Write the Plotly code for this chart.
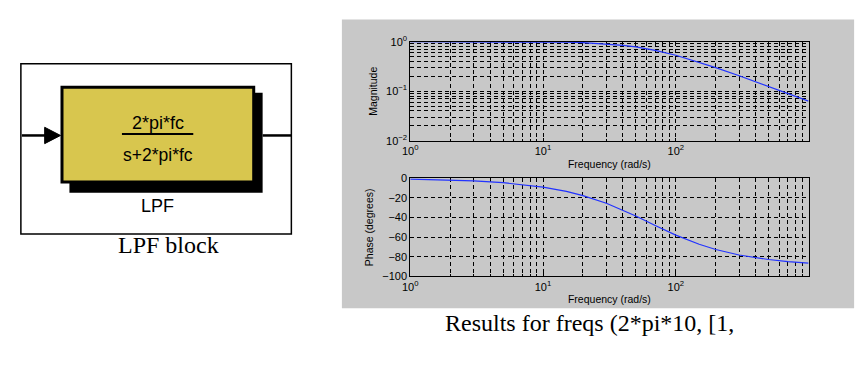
import plotly.graph_objects as go

W, H = 867, 368

# Data
freq = [1, 2, 3, 5, 7, 10, 15, 20, 30, 40, 50, 70, 100, 150, 200, 300, 400, 500, 700, 1000]
magnitude = [1.0, 0.9995, 0.9989, 0.997, 0.994, 0.988, 0.973, 0.953, 0.902, 0.843, 0.782, 0.668,
             0.532, 0.386, 0.300, 0.205, 0.155, 0.125, 0.089, 0.063]
phase = [-0.9, -1.8, -2.7, -4.5, -6.4, -9.0, -13.4, -17.7, -25.5, -32.5, -38.5, -48.1,
         -57.9, -67.3, -72.6, -78.2, -81.1, -82.8, -84.9, -86.4]

x_major = [1, 10, 100]
x_major_labels = ["10<sup>0</sup>", "10<sup>1</sup>", "10<sup>2</sup>"]
mag_major = [0.01, 0.1, 1]
mag_major_labels = ["10<sup>−2</sup>", "10<sup>−1</sup>", "10<sup>0</sup>"]
phase_ticks = [0, -20, -40, -60, -80, -100]
minor_mult = [2, 3, 4, 5, 6, 7, 8, 9]

xlabel = "Frequency (rad/s)"
mag_label = "Magnitude"
phase_label = "Phase (degrees)"
block_num = "2*pi*fc"
block_den = "s+2*pi*fc"
block_name = "LPF"
caption_left = "LPF block"
caption_right = "Results for freqs (2*pi*10, [1,"

x_minor = [m * d for d in x_major for m in minor_mult]
mag_minor = [m * d for d in mag_major[:-1] for m in minor_mult]


def px(x):
    return x / W


def py(y):
    return 1 - y / H


fig = go.Figure()
fig.add_trace(go.Scatter(x=freq, y=magnitude, mode="lines", line=dict(color="#2233ff", width=1.2),
                         xaxis="x", yaxis="y", showlegend=False, hoverinfo="skip"))
fig.add_trace(go.Scatter(x=freq, y=phase, mode="lines", line=dict(color="#2233ff", width=1.2),
                         xaxis="x2", yaxis="y2", showlegend=False, hoverinfo="skip"))

sans = "Liberation Sans, Arial"
serif = "Liberation Serif, Times New Roman"
tickfont = dict(family=sans, size=11, color="black")
labfont = dict(family=sans, size=10.5, color="black")
dash = "4px,3px"
grid = dict(showgrid=True, gridcolor="black", gridwidth=1, griddash=dash,
            showline=True, linecolor="black", linewidth=1, mirror=True,
            ticks="inside", ticklen=3, tickcolor="black", zeroline=False, tickfont=tickfont)


def minor(vals):
    return dict(tickvals=vals, showgrid=True, gridcolor="black", gridwidth=1, griddash=dash,
                ticks="inside", ticklen=2, tickcolor="black")


dom_x = [px(406), px(808)]
fig.update_layout(
    width=W, height=H, autosize=False, margin=dict(l=0, r=0, t=0, b=0),
    paper_bgcolor="white", plot_bgcolor="white",
    xaxis=dict(type="log", range=[0, 3], domain=dom_x, anchor="y", tickvals=x_major, ticktext=x_major_labels,
               minor=minor(x_minor), title=dict(text=xlabel, font=labfont, standoff=4), **grid),
    yaxis=dict(type="log", range=[-2, 0], domain=[py(138), py(35)], anchor="x", tickvals=mag_major,
               ticktext=mag_major_labels, minor=minor(mag_minor),
               title=dict(text=mag_label, font=labfont, standoff=6), **grid),
    xaxis2=dict(type="log", range=[0, 3], domain=dom_x, anchor="y2", tickvals=x_major, ticktext=x_major_labels,
                minor=minor(x_minor), title=dict(text=xlabel, font=labfont, standoff=4), **grid),
    yaxis2=dict(range=[-100, 0], domain=[py(279), py(177)], anchor="x2", tickvals=phase_ticks,
                title=dict(text=phase_label, font=labfont, standoff=6), **grid),
)

shapes = []
# grey figure panel
shapes.append(dict(type="rect", xref="paper", yref="paper", x0=px(337), x1=px(854), y0=py(312), y1=py(12),
                   fillcolor="#c8c8c8", line=dict(width=0), layer="below"))
# outer white box of the block diagram
shapes.append(dict(type="rect", xref="paper", yref="paper", x0=px(13), x1=px(286), y0=py(235), y1=py(58),
                   fillcolor="white", line=dict(color="black", width=1.5), layer="below"))
# shadow
shapes.append(dict(type="rect", xref="paper", yref="paper", x0=px(62), x1=px(257), y0=py(192), y1=py(88),
                   fillcolor="black", line=dict(width=0)))
# yellow block
shapes.append(dict(type="rect", xref="paper", yref="paper", x0=px(54.5), x1=px(248), y0=py(181), y1=py(82.5),
                   fillcolor="#d8c64e", line=dict(color="black", width=3)))
# input line and arrow
shapes.append(dict(type="line", xref="paper", yref="paper", x0=px(14), x1=px(40), y0=py(132.5), y1=py(132.5),
                   line=dict(color="black", width=2.5)))
shapes.append(dict(type="path", xref="paper", yref="paper",
                   path=f"M {px(37)} {py(124)} L {px(53)} {py(132.5)} L {px(37)} {py(141)} Z",
                   fillcolor="black", line=dict(color="black", width=1)))
# output line
shapes.append(dict(type="line", xref="paper", yref="paper", x0=px(257), x1=px(286), y0=py(132.5), y1=py(132.5),
                   line=dict(color="black", width=2.5)))
# fraction bar
shapes.append(dict(type="line", xref="paper", yref="paper", x0=px(115), x1=px(187), y0=py(131), y1=py(131),
                   line=dict(color="black", width=2)))
fig.update_layout(shapes=shapes)

ann = [
    dict(text=block_num, x=px(151), y=py(120), font=dict(family=sans, size=18, color="black")),
    dict(text=block_den, x=px(151), y=py(153), font=dict(family=sans, size=17.5, color="black")),
    dict(text=block_name, x=px(151), y=py(206), font=dict(family=sans, size=18, color="black")),
    dict(text=caption_left, x=px(162), y=py(246), font=dict(family=serif, size=24, color="black")),
    dict(text=caption_right, x=px(587), y=py(327), font=dict(family=serif, size=24, color="black")),
]
for a in ann:
    a.update(xref="paper", yref="paper", showarrow=False, xanchor="center", yanchor="middle")
fig.update_layout(annotations=ann)

post = ("document.documentElement.style.overflow='hidden';"
        "document.body.style.margin='0';document.body.style.overflow='hidden';"
        "var gd=document.getElementById('{plot_id}');"
        "Plotly.relayout(gd,{width:867,height:368,autosize:false});")
fig.write_html("out.html", config={"displayModeBar": False, "responsive": False}, post_script=post)
